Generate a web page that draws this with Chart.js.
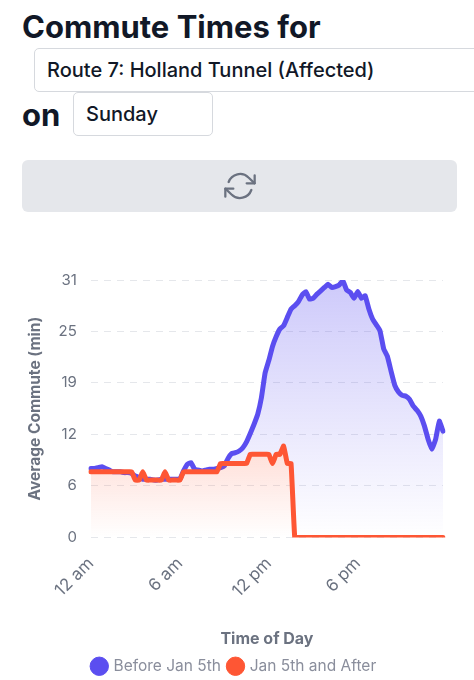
<!DOCTYPE html>
<html>
<head>
<meta charset="utf-8">
<script src="https://cdn.jsdelivr.net/npm/chart.js@4.4.0/dist/chart.umd.min.js"></script>
<style>
  body { margin: 0; width: 474px; height: 680px; overflow: hidden; background: #fff;
         font-family: Inter, "Noto Sans", sans-serif; color: #111827; }
  .big { position: absolute; margin: 0; font-size: 31px; font-weight: 700; line-height: 36px; }
  .box { position: absolute; border: 1px solid #d6d9de; border-radius: 5px; box-sizing: border-box;
         font-size: 20px; font-weight: 500; color: #111827; }
  .box span { position: absolute; top: 9px; line-height: 24px; }
  #refresh { position: absolute; left: 22px; top: 160px; width: 435px; height: 52px;
             background: #e5e7eb; border-radius: 6px; }
  #refresh svg { position: absolute; left: 202px; top: 10px; }
  #wrap { position: absolute; left: 0; top: 252px; width: 474px; height: 432px; }
</style>
</head>
<body>
<h1 class="big" style="left:22px; top:9px;">Commute Times for</h1>
<div class="box" style="left:34px; top:48px; width:460px; height:44px;"><span style="left:12px;">Route 7: Holland Tunnel (Affected)</span></div>
<div class="big" style="left:22px; top:97px;">on</div>
<div class="box" style="left:73px; top:92px; width:140px; height:44px;"><span style="left:12px;">Sunday</span></div>
<div id="refresh">
  <svg width="32" height="32" viewBox="0 0 24 24" fill="none" stroke="#6b7280" stroke-width="1.7" stroke-linecap="round" stroke-linejoin="round">
    <polyline points="23 4 23 10 17 10"></polyline>
    <polyline points="1 20 1 14 7 14"></polyline>
    <path d="M3.51 9a9 9 0 0 1 14.85-3.36L23 10M1 14l4.64 4.36A9 9 0 0 0 20.49 15"></path>
  </svg>
</div>
<div id="wrap"><canvas id="commuteChart"></canvas></div>

<script>
// 15 minute slots across the day, 96 per series
const slotsPerHour = 4
const tickLabels = ['12 am', '6 am', '12 pm', '6 pm']
const seriesNames = ['Before Jan 5th', 'Jan 5th and After']

const beforeJan5 = [
    8.3, 8.3, 8.4, 8.5, 8.3, 8.1, 7.9, 7.9, 7.9, 7.8, 7.8, 7.7,
    7.4, 7.2, 7.0, 7.0, 7.0, 6.9, 6.9, 7.0, 7.0, 7.0, 7.0, 7.0,
    7.0, 8.0, 8.8, 9.0, 8.2, 8.1, 8.0, 8.1, 8.2, 8.2, 8.3, 8.4,
    8.6, 9.5, 10.1, 10.2, 10.4, 10.8, 11.5, 12.5, 13.6, 14.8, 16.8, 19.8,
    21.3, 23.0, 24.2, 25.1, 25.5, 26.5, 27.5, 27.9, 28.4, 29.2, 29.6, 28.7,
    28.8, 29.3, 29.7, 30.1, 30.5, 30.1, 30.2, 30.4, 30.9, 29.8, 29.5, 28.8,
    29.6, 28.8, 29.1, 27.5, 26.3, 25.6, 24.9, 22.7, 21.8, 20.0, 18.3, 17.5,
    17.1, 17.0, 16.6, 15.8, 15.3, 14.6, 13.4, 11.8, 10.6, 11.8, 14.0, 12.8
]
const afterJan5 = [
    7.9, 7.9, 7.9, 7.9, 7.9, 7.9, 7.9, 7.9, 7.9, 7.9, 7.9, 7.9,
    6.9, 6.9, 7.9, 6.9, 6.9, 6.9, 6.9, 6.9, 7.9, 6.9, 6.9, 6.9,
    6.9, 7.9, 7.9, 7.9, 7.9, 7.9, 7.9, 7.9, 7.9, 7.9, 7.9, 8.9,
    8.9, 8.9, 8.9, 8.9, 8.9, 8.9, 8.9, 10.0, 10.0, 10.0, 10.0, 10.0,
    10.0, 8.9, 10.0, 10.0, 11.0, 8.9, 8.9, 0, 0, 0, 0, 0,
    0, 0, 0, 0, 0, 0, 0, 0, 0, 0, 0, 0,
    0, 0, 0, 0, 0, 0, 0, 0, 0, 0, 0, 0,
    0, 0, 0, 0, 0, 0, 0, 0, 0, 0, 0, 0
]

const slots = beforeJan5.map((v, i) => {
    const h = Math.floor(i / slotsPerHour)
    const m = (i % slotsPerHour) * 15
    return h + ':' + String(m).padStart(2, '0')
})

function fade(rgb, alpha, topValue) {
    return (context) => {
        const chart = context.chart
        const area = chart.chartArea
        if (!area) return 'rgba(' + rgb + ',0)'
        const top = topValue == null ? area.top : chart.scales.y.getPixelForValue(topValue)
        const g = chart.ctx.createLinearGradient(0, top, 0, area.bottom)
        g.addColorStop(0, 'rgba(' + rgb + ',' + alpha + ')')
        g.addColorStop(1, 'rgba(' + rgb + ',0)')
        return g
    }
}

const grey = '#6b7280'
const blue = '#5b4ef0'
const red = '#fe5634'

document.addEventListener('DOMContentLoaded', () => {
    const ctx = document.getElementById('commuteChart').getContext('2d')
    new Chart(ctx, {
        type: 'line',
        data: {
            labels: slots,
            datasets: [{
                label: seriesNames[0],
                data: beforeJan5,
                borderColor: blue,
                pointBackgroundColor: blue,
                pointBorderColor: blue,
                backgroundColor: fade('91,78,240', 0.3),
                fill: '+1', // fill down to the after-Jan-5 line
                order: 2
            }, {
                label: seriesNames[1],
                data: afterJan5,
                borderColor: red,
                pointBackgroundColor: red,
                pointBorderColor: red,
                backgroundColor: fade('254,86,52', 0.2, 11),
                fill: 'origin',
                order: 1
            }]
        },
        options: {
            responsive: true,
            maintainAspectRatio: false,
            animation: false,
            elements: {
                point: { radius: 0 },
                line: { borderWidth: 5, tension: 0.1, borderJoinStyle: 'round', borderCapStyle: 'round' }
            },
            layout: { padding: { left: 26, right: 31, top: 28 } },
            scales: {
                x: {
                    grid: { display: false },
                    border: { display: false },
                    ticks: {
                        autoSkip: false,
                        maxRotation: 45,
                        minRotation: 45,
                        color: grey,
                        padding: 8,
                        font: { family: 'Inter', size: 17 },
                        callback: (val, i) => i % (6 * slotsPerHour) === 0 ? tickLabels[i / (6 * slotsPerHour)] : ''
                    },
                    title: {
                        display: true,
                        text: 'Time of Day',
                        color: grey,
                        padding: { top: 20, bottom: 2 },
                        font: { family: 'Inter', size: 16, weight: 'bold' }
                    }
                },
                y: {
                    min: 0,
                    max: 31,
                    grid: { color: '#e5e7eb', drawTicks: false },
                    border: { display: false, dash: [7, 6] },
                    ticks: {
                        stepSize: 6.2,
                        color: grey,
                        padding: 14,
                        font: { family: 'Inter', size: 15 },
                        callback: (v) => Math.round(v)
                    },
                    title: {
                        display: true,
                        text: 'Average Commute (min)',
                        color: grey,
                        padding: { top: 0, bottom: 0 },
                        font: { family: 'Inter', size: 15.5, weight: 'bold' }
                    }
                }
            },
            plugins: {
                tooltip: { enabled: false },
                legend: {
                    position: 'bottom',
                    labels: {
                        usePointStyle: true,
                        pointStyle: 'circle',
                        boxWidth: 13,
                        boxHeight: 13,
                        padding: 8,
                        color: '#8a8e9c',
                        font: { family: 'Inter', size: 15.5 },
                        sort: (a, b) => a.datasetIndex - b.datasetIndex
                    }
                }
            }
        }
    })
})
</script>
</body>
</html>
